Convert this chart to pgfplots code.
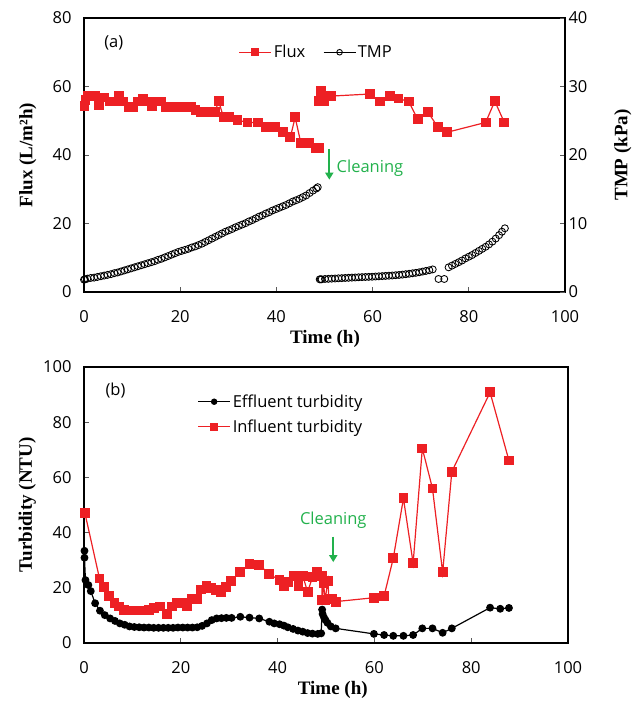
\documentclass[border=0pt]{standalone}
\usepackage{fontspec}
\setmainfont{Open Sans}
\newfontfamily\labfont{Liberation Serif}
\usepackage{pgfplots}
\pgfplotsset{compat=1.18}
\usetikzlibrary{arrows.meta}
\definecolor{fluxred}{RGB}{237,32,36}
\definecolor{cleangreen}{RGB}{34,177,76}
\definecolor{tickgray}{RGB}{90,90,90}
\newcommand{\tickfont}{\fontsize{16.5}{20}\selectfont}
\newcommand{\labelfont}{\fontsize{19}{22}\selectfont\labfont\bfseries}
\pgfplotsset{
  base/.style={
    scale only axis, width=481pt,
    xmin=0, xmax=100, xtick={0,20,...,100},
    tick align=inside, major tick length=5pt,
    axis line style={line width=1.5pt},
    tick style={line width=0.8pt, tickgray},
    ticklabel style={font=\tickfont},
    xticklabel style={yshift=-15pt},
    yticklabel style={xshift=-9pt},
    xtick pos=bottom,
    /pgf/number format/assume math mode=true,
    clip=false,
    legend image code/.code={\draw[mark repeat=2,mark phase=2,##1] plot coordinates {(0pt,0pt)(16pt,0pt)(32pt,0pt)};},
  },
}
\begin{document}
\begin{tikzpicture}
\useasboundingbox (0,0) rectangle (635pt,702pt);
% ---------- panel (a) ----------
\begin{axis}[base, at={(84pt,410pt)}, anchor=south west, height=274pt,
  ymin=0, ymax=80, ytick={0,20,...,80}, ytick pos=left]
\addplot[fluxred, line width=1.2pt, mark=square*, mark size=4.3pt] coordinates {
(0.1,54.3)(0.3,56.0)(0.9,57.2)(2.3,57.2)(3.2,54.6)(4.2,56.8)(5.4,55.6)(6.3,55.6)
(7.3,57.2)(8.1,55.6)(9.4,53.9)(10.2,53.9)(11.2,55.6)(12.3,56.5)(13.1,55.6)(14.1,54.3)
(15.2,55.6)(16.1,55.6)(17.1,53.9)(18.1,53.9)(19.2,53.9)(20.2,53.9)(21.2,53.9)(22.3,53.9)
(23.2,53.1)(24.2,52.5)(25.2,52.5)(26.2,52.5)(27.2,52.5)(28.0,55.7)(29.0,51.0)(30.1,51.0)
(31.9,50.2)(34.0,49.5)(36.1,49.5)(37.9,48.1)(39.8,48.1)(41.3,46.6)(42.9,45.2)(43.9,51.0)
(45.1,43.4)(46.8,43.4)(48.2,42.0)(48.9,42.0)};
\addplot[fluxred, line width=1.2pt, mark=square*, mark size=4.3pt] coordinates {
(48.9,55.8)(49.3,58.6)(49.9,55.8)(51.4,57.2)(59.4,57.8)(61.5,55.6)(63.6,57.3)(65.4,56.5)
(67.5,55.6)(69.4,50.4)(71.5,52.5)(73.6,48.1)(75.4,46.6)(83.5,49.5)(85.4,55.7)(87.4,49.5)};
\node[font=\tickfont, anchor=center] at (axis description cs:0.062,0.909) {(a)};
\node[font=\tickfont, text=cleangreen, anchor=west] at (axis cs:51.8,36.2) {Cleaning};
\draw[cleangreen, line width=2pt, -{Triangle[length=7pt,width=8pt]}] (axis cs:51.0,41.8) -- (axis cs:51.0,32.8);
\node[font=\labelfont, rotate=90] at (axis description cs:-0.117,0.5) {Flux (L/m²h)};
\node[font=\labelfont] at (axis description cs:0.501,-0.172) {Time (h)};
\end{axis}
\begin{axis}[base, at={(84pt,410pt)}, anchor=south west, height=274pt,
  ymin=0, ymax=40, ytick={0,10,...,40},
  axis x line=none, axis y line*=right, ytick pos=right, yticklabel pos=right,
  yticklabel style={xshift=9pt},
  legend columns=2,
  legend style={draw=none, fill=none, font=\tickfont, at={(axis description cs:0.315,0.875)}, anchor=west,
    /tikz/every even column/.append style={column sep=16pt}},
  legend cell align=left]
\addlegendimage{fluxred, line width=1.2pt, mark=square*, mark size=3.3pt}
\addlegendentry{Flux}
\addlegendimage{draw=none, mark=o, mark size=2.8pt, mark options={draw=black, line width=0.9pt}}
\addlegendentry{TMP}
\addplot[only marks, black, mark=o, mark size=3.5pt, line width=0.85pt, forget plot] coordinates {
(0,1.8)(0.2,1.85)(0.7,1.95)(1.4,2.05)(2.1,2.1)(2.8,2.2)(3.5,2.3)(4.2,2.4)(4.9,2.5)(5.6,2.6)
(6.3,2.75)(7.0,2.85)(7.7,3.0)(8.4,3.15)(9.1,3.3)(9.8,3.45)(10.5,3.6)(11.2,3.75)(11.9,3.9)
(12.6,4.05)(13.3,4.2)(14.0,4.35)(14.7,4.5)(15.4,4.7)(16.1,4.85)(16.8,5.05)(17.5,5.25)
(18.2,5.45)(18.9,5.65)(19.6,5.85)(20.3,6.0)(21.0,6.15)(21.7,6.3)(22.4,6.5)(23.1,6.65)
(23.8,6.85)(24.5,7.05)(25.2,7.3)(25.9,7.55)(26.6,7.8)(27.3,8.05)(28.0,8.3)(28.7,8.55)
(29.4,8.8)(30.1,9.0)(30.8,9.2)(31.5,9.45)(32.2,9.65)(32.9,9.85)(33.6,10.05)(34.3,10.3)
(35.0,10.5)(35.7,10.75)(36.4,11.0)(37.1,11.2)(37.8,11.45)(38.5,11.65)(39.2,11.9)(39.9,12.1)
(40.6,12.3)(41.3,12.5)(42.0,12.7)(42.7,12.95)(43.4,13.2)(44.1,13.4)(44.8,13.6)(45.5,13.85)
(46.2,14.1)(46.9,14.45)(47.6,14.8)(48.3,15.1)(48.6,15.3)
(49.0,1.85)(49.2,1.85)(49.4,1.85)(50.1,1.9)(50.8,1.92)(51.5,1.95)(52.2,1.97)(52.9,2.0)
(53.6,2.02)(54.3,2.05)(55.0,2.07)(55.7,2.1)(56.4,2.12)(57.1,2.15)(57.8,2.17)(58.5,2.19)
(59.2,2.21)(59.9,2.23)(60.6,2.26)(61.3,2.29)(62.0,2.32)(62.7,2.35)(63.4,2.38)(64.1,2.41)
(64.8,2.45)(65.5,2.49)(66.2,2.54)(66.9,2.6)(67.6,2.66)(68.3,2.73)(69.0,2.8)(69.7,2.88)
(70.4,2.98)(71.1,3.08)(71.8,3.18)(72.5,3.3)
(73.7,1.9)(74.9,1.9)
(75.8,3.6)(76.5,3.85)(77.2,4.1)(77.9,4.35)(78.6,4.6)(79.3,4.9)(80.0,5.15)(80.7,5.4)
(81.4,5.7)(82.1,6.0)(82.8,6.3)(83.5,6.6)(84.2,6.95)(84.9,7.35)(85.6,7.8)(86.3,8.3)
(86.9,8.8)(87.5,9.3)};
\node[font=\labelfont, rotate=90] at (axis description cs:1.12,0.5) {TMP (kPa)};
\end{axis}
% ---------- panel (b) ----------
\begin{axis}[base, at={(84pt,59pt)}, anchor=south west, height=276pt, width=484pt,
  ymin=0, ymax=100, ytick={0,20,...,100}, ytick pos=left,
  legend style={draw=none, fill=none, font=\tickfont, at={(axis description cs:0.228,0.915)}, anchor=north west,
    row sep=7pt},
  legend cell align=left]
\addlegendimage{black, line width=1.2pt, mark=*, mark size=2.6pt}
\addlegendentry{Effluent turbidity}
\addlegendimage{fluxred, line width=1.2pt, mark=square*, mark size=3.3pt}
\addlegendentry{Influent turbidity}
\addplot[fluxred, line width=1.2pt, mark=square*, mark size=4.3pt, forget plot] coordinates {
(0.2,47.0)(3.2,23.4)(4.2,20.2)(5.2,17.0)(6.3,14.6)(7.3,13.2)(8.3,12.0)(9.4,11.8)(10.4,11.8)
(11.4,11.8)(12.4,11.8)(13.4,12.0)(14.5,12.6)(15.7,13.2)(17.2,10.4)(18.2,13.2)(19.2,14.6)
(20.2,14.6)(21.3,13.4)(22.3,15.8)(23.3,15.8)(24.2,19.4)(25.3,20.7)(26.3,19.8)(27.3,19.2)
(28.3,18.5)(29.3,20.2)(30.4,22.6)(32.3,25.8)(34.2,28.6)(36.2,28.3)(38.3,24.9)(40.4,22.8)
(41.4,20.7)(42.1,22.2)(43.3,24.3)(44.3,20.7)(45.2,24.3)(46.2,18.5)(47.2,23.8)(48.2,25.6)
(49.1,24.2)(49.2,15.6)(49.5,21.6)(49.8,15.7)(50.4,22.4)(50.6,15.8)(51.3,15.8)(52.0,15.0)
(59.9,16.4)(62.0,17.0)(63.9,30.7)(66.0,52.4)(68.0,28.9)(69.9,70.5)(72.0,56.0)(74.1,25.6)
(76.0,62.1)(83.9,90.8)(87.8,66.1)};
\addplot[black, line width=1.2pt, mark=*, mark size=3.3pt, forget plot] coordinates {
(0.1,33.4)(0.1,30.9)(0.3,22.8)(0.9,21.0)(1.4,18.8)(2.3,14.4)(3.3,11.7)(4.3,10.1)(5.4,8.9)
(6.4,8.0)(7.4,7.1)(8.4,6.6)(9.4,6.0)(10.4,5.8)(11.4,5.7)(12.4,5.6)(13.4,5.6)(14.4,5.5)
(15.4,5.5)(16.4,5.5)(17.4,5.5)(18.4,5.5)(19.4,5.6)(20.4,5.6)(21.4,5.6)(22.4,5.6)(23.4,5.7)
(24.4,6.2)(25.4,7.1)(26.4,8.3)(27.4,8.9)(28.4,9.0)(29.4,9.1)(30.5,9.1)(32.3,9.5)(34.2,9.2)
(36.2,8.9)(38.3,7.7)(39.3,7.1)(40.4,6.8)(41.3,6.3)(42.1,5.7)(43.2,5.1)(44.2,4.5)(45.2,4.1)
(46.2,3.6)(47.2,3.4)(48.3,3.3)(49.0,3.5)(49.2,12.1)(49.3,10.5)(49.6,9.2)(49.9,8.3)(50.3,7.3)
(51.0,6.0)(52.0,5.3)(59.9,3.3)(62.0,2.9)(63.9,2.6)(66.0,2.6)(68.0,2.9)(69.9,5.3)(72.0,5.3)
(74.1,3.7)(76.0,5.3)(83.9,12.8)(86.0,12.4)(87.8,12.7)};
\node[font=\tickfont, anchor=center] at (axis description cs:0.065,0.913) {(b)};
\node[font=\tickfont, text=cleangreen, anchor=center] at (axis cs:51.5,44.6) {Cleaning};
\draw[cleangreen, line width=2pt, -{Triangle[length=7pt,width=8pt]}] (axis cs:51.5,38.5) -- (axis cs:51.5,29.3);
\node[font=\labelfont, rotate=90] at (axis description cs:-0.117,0.5) {Turbidity (NTU)};
\node[font=\labelfont] at (axis description cs:0.514,-0.17) {Time (h)};
\end{axis}
\end{tikzpicture}
\end{document}
